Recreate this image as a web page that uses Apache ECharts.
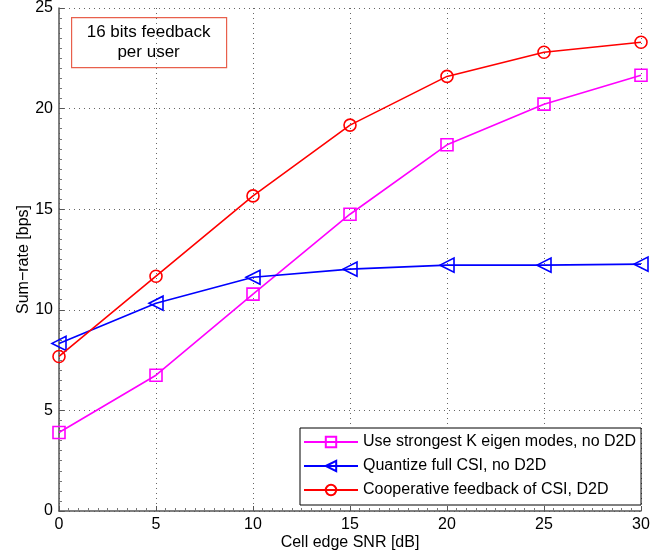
<!DOCTYPE html>
<html>
<head>
<meta charset="utf-8">
<script src="https://cdn.jsdelivr.net/npm/echarts@6/dist/echarts.min.js"></script>
<style>
  html, body { margin: 0; padding: 0; background: #fff; }
  #chart { width: 668px; height: 556px; }
</style>
</head>
<body>
<div id="chart"></div>
<script>
// x values (cell edge SNR in dB)
const snr = [0, 5, 10, 15, 20, 25, 30];
// sum-rate per scheme
const eigenModes = [3.9, 6.75, 10.78, 14.75, 18.2, 20.22, 21.66];
const quantizeFull = [8.33, 10.33, 11.62, 12.02, 12.22, 12.22, 12.27];
const cooperative = [7.68, 11.67, 15.66, 19.18, 21.6, 22.8, 23.3];
const seriesNames = [
    'Use strongest K eigen modes, no D2D',
    'Quantize full CSI, no D2D',
    'Cooperative feedback of CSI, D2D'
];

const font = 'Liberation Sans, Arial, sans-serif';

function pairs(ys) {
    return snr.map(function (x, i) { return [x, ys[i]]; });
}

const chart = echarts.init(document.getElementById('chart'));

const axisCommon = {
    axisLine: { show: true, onZero: false, lineStyle: { color: '#555', width: 1.5 } },
    axisTick: { show: true, inside: true, length: 5, lineStyle: { color: '#555' } },
    minorTick: { show: true, splitNumber: 10, length: 3, lineStyle: { color: '#777' } },
    axisLabel: { color: '#000', fontSize: 16, fontFamily: font },
    splitLine: { show: true, lineStyle: { color: '#666', type: [1, 4], width: 1 } },
    nameTextStyle: { color: '#000', fontSize: 16, fontFamily: font },
    nameMoveOverlap: false
};

const option = {
    animation: false,
    backgroundColor: '#fff',
    grid: { left: 59, top: 8, right: 27, bottom: 45, containLabel: false, outerBoundsMode: 'none' },
    xAxis: Object.assign({}, axisCommon, {
        type: 'value',
        min: 0, max: 30, interval: 5,
        name: 'Cell edge SNR [dB]',
        nameLocation: 'middle',
        nameGap: 24,
        axisLabel: Object.assign({}, axisCommon.axisLabel, { margin: 6 })
    }),
    yAxis: Object.assign({}, axisCommon, {
        type: 'value',
        min: 0, max: 25, interval: 5,
        name: 'Sum\u2212rate [bps]',
        nameLocation: 'middle',
        nameGap: 27,
        axisLabel: Object.assign({}, axisCommon.axisLabel, { margin: 6 })
    }),
    legend: {
        orient: 'vertical',
        left: 300,
        top: 428,
        padding: [5, 5, 6, 3],
        itemGap: 6,
        itemWidth: 54,
        itemHeight: 13,
        backgroundColor: '#fff',
        borderColor: '#000',
        borderWidth: 1,
        textStyle: { color: '#000', fontSize: 16, fontFamily: font, lineHeight: 18, padding: [0, 0, 0, 0] },
        data: seriesNames
    },
    graphic: [{
        type: 'group',
        left: 71,
        top: 17,
        children: [{
            type: 'rect',
            shape: { x: 0, y: 0, width: 155, height: 50 },
            style: { fill: '#fff', stroke: '#e8604c', lineWidth: 1.2 }
        }, {
            type: 'text',
            x: 77, y: 25,
            style: {
                text: '16 bits feedback\nper user',
                fill: '#000',
                font: '17px ' + font,
                align: 'center',
                verticalAlign: 'middle',
                lineHeight: 20
            }
        }]
    }],
    series: [{
        name: seriesNames[0],
        type: 'line',
        data: pairs(eigenModes),
        symbol: 'rect',
        symbolSize: 12,
        lineStyle: { color: '#ff00ff', width: 1.6 },
        itemStyle: { color: '#ff00ff', borderColor: '#ff00ff', borderWidth: 1.6 },
        z: 3
    }, {
        name: seriesNames[1],
        type: 'line',
        data: pairs(quantizeFull),
        symbol: 'triangle',
        symbolRotate: 90,
        symbolSize: 14,
        lineStyle: { color: '#0000ff', width: 1.6 },
        itemStyle: { color: '#0000ff', borderColor: '#0000ff', borderWidth: 1.6 },
        z: 4
    }, {
        name: seriesNames[2],
        type: 'line',
        data: pairs(cooperative),
        symbol: 'circle',
        symbolSize: 12,
        lineStyle: { color: '#ff0000', width: 1.6 },
        itemStyle: { color: '#ff0000', borderColor: '#ff0000', borderWidth: 1.6 },
        z: 5
    }]
};

// hollow markers like the MATLAB figure
option.series.forEach(function (s) {
    s.itemStyle.color = '#ffffff00';
    s.emphasis = { disabled: true };
});

chart.setOption(option);
</script>
</body>
</html>
